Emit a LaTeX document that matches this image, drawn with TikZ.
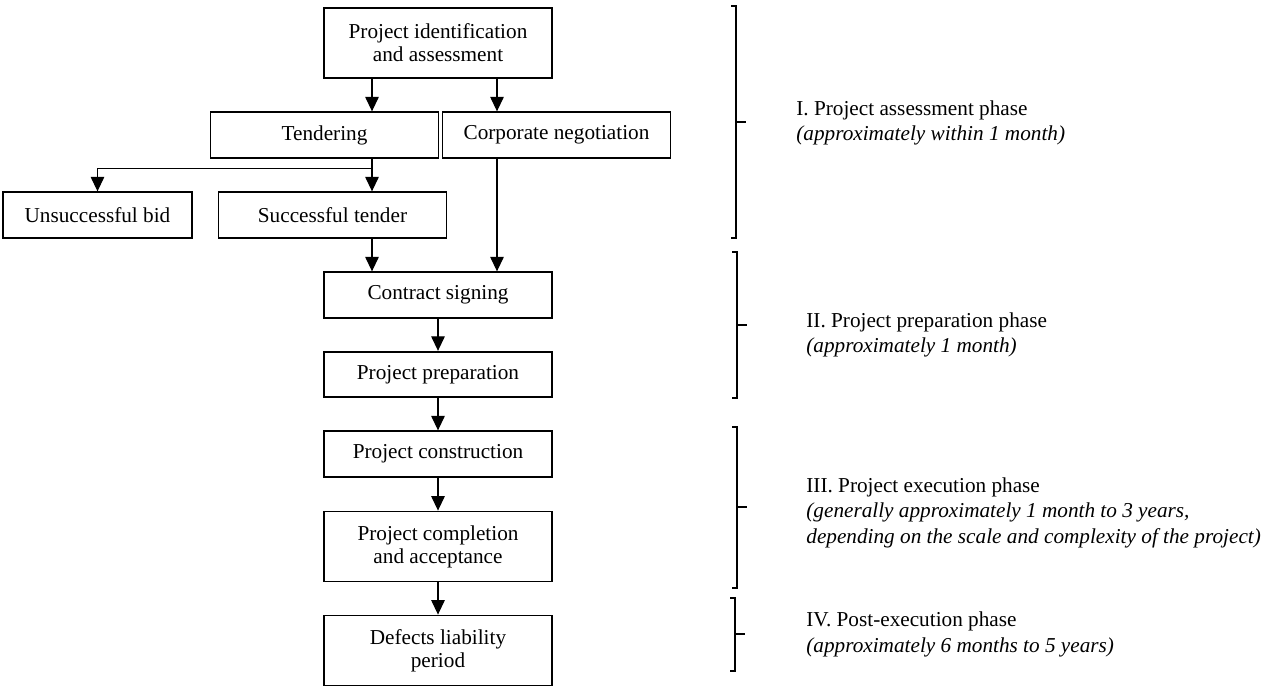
\documentclass[tikz,border=0pt]{standalone}
\usepackage{fontspec}
\setmainfont{Liberation Serif}
\usetikzlibrary{arrows.meta}

\tikzset{
	stage/.style={draw, line width=0.9pt, align=center, inner sep=2pt, minimum width=118pt, minimum height=23.6pt, font=\fontsize{11}{12}\selectfont},
	tall/.style={minimum height=36.3pt},
	link/.style={line width=0.6pt, -{Triangle[length=7.5pt,width=7pt]}},
	brace/.style={line width=0.6pt},
	phase/.style={anchor=base west, align=left, inner sep=0pt, font=\fontsize{11}{13}\selectfont}
}

\begin{document}
\begin{tikzpicture}[x=0.518pt, y=-0.518pt]
	\useasboundingbox (0,0) rectangle (1264,686);
	% process boxes
	\node[stage, tall] (ident) at (438,43) {Project identification\\and assessment};
	\node[stage] (tender) at (324.5,135) {Tendering};
	\node[stage] (corp) at (556.5,135) {Corporate negotiation};
	\node[stage, minimum width=98pt] (unsucc) at (97.5,215) {Unsuccessful bid};
	\node[stage] (succ) at (332.5,215) {Successful tender};
	\node[stage] (contract) at (438,295) {Contract signing};
	\node[stage] (prep) at (438,374.5) {Project preparation};
	\node[stage] (constr) at (438,454) {Project construction};
	\node[stage, tall] (compl) at (438,546.5) {Project completion\\and acceptance};
	\node[stage, tall] (defects) at (438,650.5) {Defects liability\\period};
	% arrow columns
	\coordinate (ta) at (372,0);
	\coordinate (ca) at (497,0);
	\draw[link] (ident.south -| ta) -- (tender.north -| ta);
	\draw[link] (ident.south -| ca) -- (corp.north -| ca);
	\draw[link] (tender.south -| ta) -- (succ.north -| ta);
	\draw[link] (tender.south -| ta) -- ++(0,10) -| (unsucc.north);
	\draw[link] (succ.south -| ta) -- (contract.north -| ta);
	\draw[link] (corp.south -| ca) -- (contract.north -| ca);
	\draw[link] (contract) -- (prep);
	\draw[link] (prep) -- (constr);
	\draw[link] (constr) -- (compl);
	\draw[link] (compl) -- (defects);
	% phase brackets
	\draw[brace] (731,6) -- (736,6) -- (736,238) -- (731,238) (736,122) -- (746,122);
	\draw[brace] (732,252) -- (737,252) -- (737,398) -- (732,398) (737,325) -- (747,325);
	\draw[brace] (732,427) -- (737,427) -- (737,588) -- (732,588) (737,507) -- (747,507);
	\draw[brace] (730,598) -- (735,598) -- (735,671) -- (730,671) (735,634) -- (745,634);
	% phase labels (base = last line)
	\node[phase] (ph1) at (796,141) {I. Project assessment phase\\\textit{(approximately within 1 month)}};
	\node[phase] (ph2) at (806,353) {II. Project preparation phase\\\textit{(approximately 1 month)}};
	\node[phase] (ph3) at (806,543) {III. Project execution phase\\\textit{(generally approximately 1 month to 3 years,}\\\textit{depending on the scale and complexity of the project)}};
	\node[phase] (ph4) at (806,652) {IV. Post-execution phase\\\textit{(approximately 6 months to 5 years)}};
\end{tikzpicture}
\end{document}
